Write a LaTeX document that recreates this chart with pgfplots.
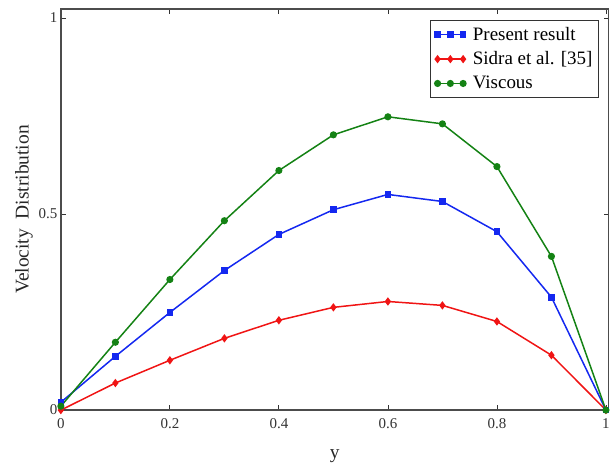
\documentclass[border=0pt]{standalone}
\usepackage{fontspec}
\setmainfont{Liberation Serif}
\usepackage{pgfplots}
\pgfplotsset{compat=1.18}
\definecolor{cblue}{RGB}{20,40,240}
\definecolor{cred}{RGB}{240,20,20}
\definecolor{cgreen}{RGB}{20,130,20}
\begin{document}
\begin{tikzpicture}
\begin{axis}[
  scale only axis,
  width=549pt, height=402pt,
  xmin=0, xmax=1.005, ymin=0, ymax=1.023,
  xtick={0,0.2,0.4,0.6,0.8,1},
  xticklabels={0,0.2,0.4,0.6,0.8,1},
  ytick={0,0.5,1},
  yticklabels={0,0.5,1},
  tick align=inside,
  major tick length=5pt,
  tick style={black!80, line width=0.8pt},
  axis line style={black!70, line width=1.3pt},
  /pgf/number format/assume math mode=true,
  tick label style={font=\fontsize{15}{17}\selectfont, text=black!80},
  xticklabel style={yshift=-5pt},
  xlabel={y}, ylabel={Velocity\ \ Distribution},
  label style={font=\fontsize{19.5}{21}\selectfont, text=black!85},
  xlabel style={yshift=-14pt},
  ylabel style={yshift=-1pt},
  legend style={at={(0.982,0.973)}, anchor=north east, draw=black!80, line width=0.8pt,
     font=\fontsize{19}{21}\selectfont, inner xsep=4pt, inner ysep=5pt, row sep=6pt, column sep=5pt,
     legend cell align=left},
  legend image code/.code={\draw[#1] plot coordinates {(0cm,0cm) (0.45cm,0cm) (0.9cm,0cm)};},
]
\addplot[cblue, line width=1.5pt, mark=square*, mark size=2.6pt] coordinates {
(0,0.02) (0.1,0.137) (0.2,0.249) (0.3,0.356) (0.4,0.448) (0.5,0.511) (0.6,0.55) (0.7,0.532) (0.8,0.455) (0.9,0.288) (1,0.0)};
\addlegendentry{Present result}
\addplot[cred, line width=1.5pt, mark=diamond*, mark size=3pt] coordinates {
(0,0) (0.1,0.069) (0.2,0.127) (0.3,0.183) (0.4,0.229) (0.5,0.262) (0.6,0.277) (0.7,0.267) (0.8,0.226) (0.9,0.14) (1,0)};
\addlegendentry{Sidra et al. [35]}
\addplot[cgreen, line width=1.5pt, mark=*, mark size=2.8pt] coordinates {
(0,0.01) (0.1,0.173) (0.2,0.333) (0.3,0.483) (0.4,0.611) (0.5,0.702) (0.6,0.748) (0.7,0.730) (0.8,0.621) (0.9,0.392) (1,0)};
\addlegendentry{Viscous}
\end{axis}
\path (current axis.south west) ++(-61pt,-53pt) rectangle ++(613pt,464pt);
\end{tikzpicture}
\end{document}
